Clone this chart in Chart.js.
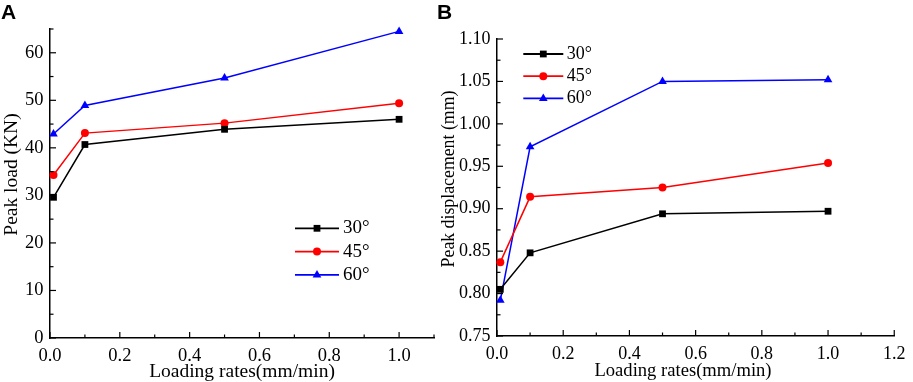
<!DOCTYPE html>
<html>
<head>
<meta charset="utf-8">
<script src="https://cdn.jsdelivr.net/npm/chart.js@4.4.1/dist/chart.umd.min.js"></script>
<style>
  body { margin: 0; background: #fff; }
  #wrap { position: relative; width: 913px; height: 382px; overflow: hidden; }
  canvas { position: absolute; top: 0; }
  .tag { position: absolute; top: 0; font: bold 21px "Liberation Sans", Arial, sans-serif; color: #000; }
</style>
</head>
<body>
<div id="wrap">
  <canvas id="chartA" style="left:0px"></canvas>
  <canvas id="chartB" style="left:425px"></canvas>
  <div class="tag" style="left:1px">A</div>
  <div class="tag" style="left:437px">B</div>
</div>
<script>
// loading rates (mm/min)
const rates = [0.01, 0.1, 0.5, 1.0];
const angles = ['30°', '45°', '60°'];

// panel A: peak load (KN)
const load30 = [29.6, 40.7, 43.9, 46.0];
const load45 = [34.3, 43.1, 45.2, 49.4];
const load60 = [42.9, 48.9, 54.7, 64.5];

// panel B: peak displacement (mm)
const disp30 = [0.805, 0.848, 0.894, 0.897];
const disp45 = [0.837, 0.914, 0.925, 0.954];
const disp60 = [0.792, 0.973, 1.050, 1.052];

const serif = '"Liberation Serif", "Times New Roman", serif';
Chart.defaults.color = '#000';
Chart.defaults.font.family = serif;
Chart.defaults.font.size = 18;

const colors = ['#000000', '#ff0000', '#0000ff'];
const styles = ['rect', 'circle', 'triangle'];
const radii = [4.8, 4, 5];

function makeSets(series) {
  return series.map((vals, i) => ({
    label: angles[i],
    data: rates.map((r, j) => ({x: r, y: vals[j]})),
    borderColor: colors[i],
    backgroundColor: colors[i],
    borderWidth: 1.5,
    pointStyle: styles[i],
    pointRadius: radii[i],
    pointBorderWidth: 0,
    clip: false
  }));
}

// inward major / minor tick marks drawn from the scales
const tickMarks = {
  id: 'tickMarks',
  afterDraw(chart) {
    const ctx = chart.ctx;
    const area = chart.chartArea;
    ctx.save();
    ctx.strokeStyle = '#000';
    ctx.lineWidth = 1.2;
    Object.values(chart.scales).forEach(s => {
      const t = s.options.marks;
      if (!t) return;
      const n = Math.round((s.max - s.min) / t.minor);
      for (let k = 0; k <= n; k++) {
        const v = s.min + k * t.minor;
        const major = Math.abs(Math.round((v - s.min) / t.major) * t.major - (v - s.min)) < 1e-6;
        const len = major ? 6 : 3.5;
        const p = s.getPixelForValue(v);
        ctx.beginPath();
        if (s.axis === 'x') {
          ctx.moveTo(p, area.bottom);
          ctx.lineTo(p, area.bottom - len);
        } else {
          ctx.moveTo(area.left, p);
          ctx.lineTo(area.left + len, p);
        }
        ctx.stroke();
      }
    });
    ctx.restore();
  }
};

// axis titles, placed like in the original figure
const axisTitles = {
  id: 'axisTitles',
  afterDraw(chart, args, opts) {
    const ctx = chart.ctx;
    ctx.save();
    ctx.fillStyle = '#000';
    ctx.font = opts.size + 'px ' + serif;
    ctx.textAlign = 'center';
    ctx.textBaseline = 'alphabetic';
    ctx.fillText(opts.xText, opts.xPos[0], opts.xPos[1]);
    ctx.translate(opts.yPos[0], opts.yPos[1]);
    ctx.rotate(-Math.PI / 2);
    ctx.font = opts.ySize + 'px ' + serif;
    ctx.textBaseline = 'middle';
    ctx.fillText(opts.yText, 0, 0);
    ctx.restore();
  }
};

// legend placed at a fixed spot inside the plot
const boxLegend = {
  id: 'boxLegend',
  afterDraw(chart, args, opts) {
    const ctx = chart.ctx;
    ctx.save();
    chart.data.datasets.forEach((ds, i) => {
      const y = opts.y + i * opts.gap;
      ctx.strokeStyle = ds.borderColor;
      ctx.lineWidth = 1.8;
      ctx.beginPath();
      ctx.moveTo(opts.x, y);
      ctx.lineTo(opts.x + opts.len, y);
      ctx.stroke();
      ctx.fillStyle = ds.backgroundColor;
      Chart.helpers.drawPoint(ctx, {pointStyle: ds.pointStyle, radius: ds.pointRadius, borderWidth: 0}, opts.x + opts.len / 2, y);
      ctx.fillStyle = '#000';
      ctx.font = opts.size + 'px ' + serif;
      ctx.textBaseline = 'middle';
      ctx.fillText(ds.label, opts.x + opts.len + opts.textGap, y);
    });
    ctx.restore();
  }
};

function axisX(max, xH, size) {
  return {
    type: 'linear', min: 0, max: max,
    marks: {major: 0.2, minor: 0.1},
    grid: {display: false, drawTicks: false},
    border: {display: true, color: '#000', width: 1.5},
    ticks: {stepSize: 0.2, includeBounds: false, padding: 7.5, maxRotation: 0,
      font: {size: size}, callback: v => v.toFixed(1)},
    afterFit: s => { s.height = xH; }
  };
}

function axisY(min, max, major, minor, digits, yW, size) {
  return {
    type: 'linear', min: min, max: max,
    marks: {major: major, minor: minor},
    grid: {display: false, drawTicks: false},
    border: {display: true, color: '#000', width: 1.5},
    ticks: {stepSize: major, includeBounds: false, padding: 6.5,
      font: {size: size}, callback: v => v.toFixed(digits)},
    afterFit: s => { s.width = yW; }
  };
}

function build(id, w, sets, xs, ys, pad, legend, titles) {
  const cv = document.getElementById(id);
  cv.width = w; cv.height = 382;
  cv.style.width = w + 'px'; cv.style.height = '382px';
  return new Chart(cv, {
    type: 'line',
    data: {datasets: makeSets(sets)},
    options: {
      responsive: false,
      animation: false,
      layout: {padding: pad},
      scales: {x: xs, y: ys},
      plugins: {legend: {display: false}, tooltip: {enabled: false},
        boxLegend: legend, axisTitles: titles}
    },
    plugins: [tickMarks, boxLegend, axisTitles]
  });
}

build('chartA', 440, [load30, load45, load60],
  axisX(1.1, 44, 18.5),
  axisY(0, 65, 10, 5, 0, 50, 18.5),
  {top: 29, right: 6, left: 0, bottom: 0},
  {x: 295, y: 228.3, gap: 23.3, len: 44, textGap: 4, size: 19},
  {xText: 'Loading rates(mm/min)', xPos: [242, 376.5], size: 19.5,
   yText: 'Peak load (KN)', yPos: [12, 174.5], ySize: 19.5});

build('chartB', 488, [disp30, disp45, disp60],
  axisX(1.2, 46, 18),
  axisY(0.75, 1.10, 0.05, 0.025, 2, 72, 18),
  {top: 39, right: 14, left: 0, bottom: 0},
  {x: 98.3, y: 54, gap: 22.2, len: 40, textGap: 3.4, size: 18},
  {xText: 'Loading rates(mm/min)', xPos: [258, 376], size: 18.6,
   yText: 'Peak displacement (mm)', yPos: [24, 179], ySize: 17.8});
</script>
</body>
</html>
